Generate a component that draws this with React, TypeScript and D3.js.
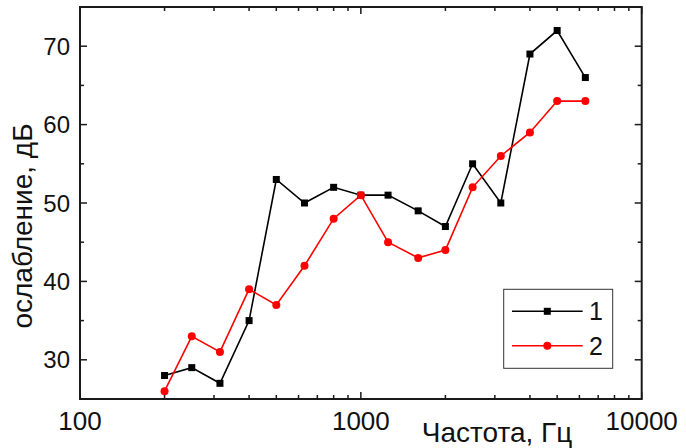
import React from "react";
import * as d3 from "d3";

const freqs = [200, 250, 315, 400, 500, 630, 800, 1000, 1250, 1600, 2000, 2500, 3150, 4000, 5000, 6300];
const series1 = [28, 29, 27, 35, 53, 50, 52, 51, 51, 49, 47, 55, 50, 69, 72, 66];
const series2 = [26, 33, 31, 39, 37, 42, 48, 51, 45, 43, 44, 52, 56, 59, 63, 63];
const xTickLabels = [100, 1000, 10000];
const yTickLabels = [30, 40, 50, 60, 70];
const legendLabels = ["1", "2"];

const W = 686, H = 448;
const L = 80, R = 641.7, T = 7, B = 399;
const FONT = "'Liberation Sans', Arial, sans-serif";
const AX = "#1a1a1a";

export default function App() {
  const x = d3.scaleLog().domain([100, 10000]).range([L, R]);
  const y = d3.scaleLinear().domain([25, 75]).range([B, T]);
  const line = d3.line<number>().x((_, i) => x(freqs[i])).y((v) => y(v));

  const minorX: number[] = [];
  for (const dec of [100, 1000]) for (let k = 2; k <= 9; k++) minorX.push(dec * k);
  const minorY = d3.range(25, 76, 5).filter((v) => v % 10 !== 0);

  const majLen = 7, minLen = 4;

  return (
    <div style={{ position: "fixed", left: 0, top: 0 }}>
      <svg width={W} height={H} style={{ display: "block", background: "#fff" }}>
        {/* data lines */}
        <path d={line(series1) || ""} fill="none" stroke="#000" strokeWidth={1.6} />
        <path d={line(series2) || ""} fill="none" stroke="#ff0000" strokeWidth={1.6} />
        {series1.map((v, i) => (
          <rect key={"s" + i} x={x(freqs[i]) - 3.5} y={y(v) - 3.5} width={7} height={7} fill="#000" />
        ))}
        {series2.map((v, i) => (
          <circle key={"c" + i} cx={x(freqs[i])} cy={y(v)} r={4} fill="#ff0000" />
        ))}

        {/* ticks */}
        {xTickLabels.map((t) => (
          <g key={"xt" + t}>
            <line x1={x(t)} x2={x(t)} y1={B} y2={B - majLen} stroke={AX} strokeWidth={1.5} />
            <line x1={x(t)} x2={x(t)} y1={T} y2={T + majLen} stroke={AX} strokeWidth={1.5} />
            <text x={x(t)} y={430} textAnchor="middle" fontFamily={FONT} fontSize={26} fill="#111">{t}</text>
          </g>
        ))}
        {minorX.map((t) => (
          <g key={"xm" + t}>
            <line x1={x(t)} x2={x(t)} y1={B} y2={B - minLen} stroke={AX} strokeWidth={1.5} />
            <line x1={x(t)} x2={x(t)} y1={T} y2={T + minLen} stroke={AX} strokeWidth={1.5} />
          </g>
        ))}
        {yTickLabels.map((t) => (
          <g key={"yt" + t}>
            <line x1={L} x2={L + majLen} y1={y(t)} y2={y(t)} stroke={AX} strokeWidth={1.5} />
            <line x1={R} x2={R - majLen} y1={y(t)} y2={y(t)} stroke={AX} strokeWidth={1.5} />
            <text x={70} y={y(t)} dy="0.36em" textAnchor="end" fontFamily={FONT} fontSize={24} fill="#111">{t}</text>
          </g>
        ))}
        {minorY.map((t) => (
          <g key={"ym" + t}>
            <line x1={L} x2={L + minLen} y1={y(t)} y2={y(t)} stroke={AX} strokeWidth={1.5} />
            <line x1={R} x2={R - minLen} y1={y(t)} y2={y(t)} stroke={AX} strokeWidth={1.5} />
          </g>
        ))}

        {/* frame */}
        <rect x={L} y={T} width={R - L} height={B - T} fill="none" stroke={AX} strokeWidth={2} />

        {/* axis titles */}
        <text x={497} y={442} textAnchor="middle" fontFamily={FONT} fontSize={28} fill="#111">Частота, Гц</text>
        <text transform={`translate(32,${226}) rotate(-90)`} textAnchor="middle" fontFamily={FONT} fontSize={28} fill="#111">ослабление, дБ</text>

        {/* legend */}
        <rect x={503.7} y={289.3} width={109} height={79} fill="#fff" stroke="#333" strokeWidth={1} />
        {legendLabels.map((lab, i) => {
          const ly = i === 0 ? 311.3 : 345.7;
          const col = i === 0 ? "#000" : "#ff0000";
          return (
            <g key={"lg" + i}>
              <line x1={512} x2={582.7} y1={ly} y2={ly} stroke={col} strokeWidth={1.6} />
              {i === 0 ? (
                <rect x={547.3 - 3.5} y={ly - 3.5} width={7} height={7} fill={col} />
              ) : (
                <circle cx={547.3} cy={ly} r={4} fill={col} />
              )}
              <text x={589} y={ly} dy="0.36em" fontFamily={FONT} fontSize={25} fill="#111">{lab}</text>
            </g>
          );
        })}
      </svg>
    </div>
  );
}
